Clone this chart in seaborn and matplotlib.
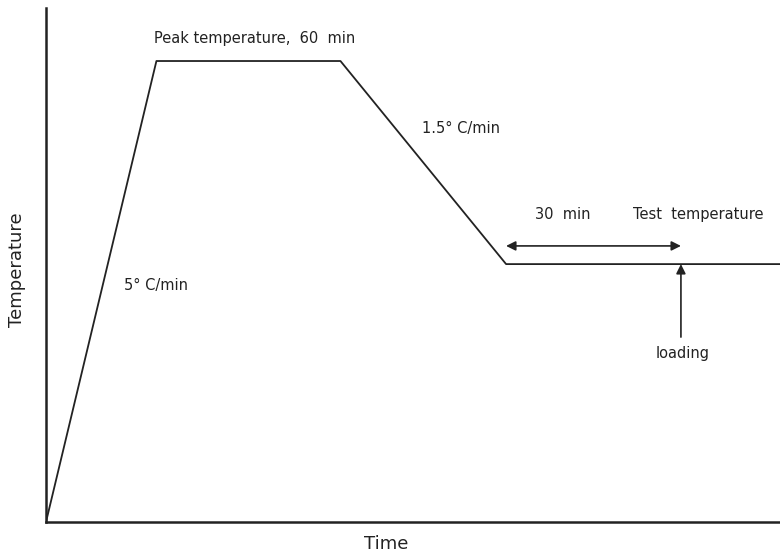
import matplotlib
matplotlib.use("Agg")
import matplotlib.pyplot as plt
import seaborn as sns
import pandas as pd

# Heat-treatment profile: heat at 5 °C/min, hold 60 min at peak,
# cool at 1.5 °C/min, then hold at test temperature before loading.
time_min = [0, 36, 96, 150, 239.3]
temp_c = [20, 200, 200, 120.7, 120.7]

hold_start = 150      # end of cooling ramp
loading_time = 207    # moment the load is applied

sns.set_theme(style="white")
plt.rcParams["font.family"] = ["DejaVu Sans"]

fig = plt.figure(figsize=(7.8, 5.56), dpi=100)
ax = fig.add_axes([46 / 780, 34 / 556, 734 / 780, 514 / 556])

profile = pd.DataFrame({"Time": time_min, "Temperature": temp_c})
sns.lineplot(data=profile, x="Time", y="Temperature", ax=ax,
             color="#222222", lw=1.3, sort=False)

ax.set_xlim(0, 239.3)
ax.set_ylim(20, 220.7)
ax.set_xticks([])
ax.set_yticks([])
for side in ("top", "right"):
    ax.spines[side].set_visible(False)
for side in ("left", "bottom"):
    ax.spines[side].set_color("#222222")
    ax.spines[side].set_linewidth(1.8)

ax.set_xlabel("Time", fontsize=13, color="#222222")
ax.xaxis.set_label_coords(0.463, -0.026)
ax.set_ylabel("Temperature", fontsize=13, color="#222222")
ax.yaxis.set_label_coords(-0.027, 0.49)

txt = dict(fontsize=10.5, color="#222222", ha="center", va="center")
ax.text(68, 208.6, "Peak temperature,  60  min", **txt)
ax.text(36, 112.5, "5° C/min", **txt)
ax.text(135.3, 173.8, "1.5° C/min", **txt)
ax.text(168.6, 139.9, "30  min", **txt)
ax.text(191.4, 139.9, "Test  temperature", fontsize=10.5, color="#222222",
        ha="left", va="center", clip_on=False)
ax.text(207.4, 85.6, "loading", **txt)

# 30-minute hold span
ax.annotate("", xy=(loading_time, 127.8), xytext=(hold_start, 127.8),
            arrowprops=dict(arrowstyle="<|-|>", color="#222222", lw=1.2,
                            mutation_scale=14, shrinkA=0, shrinkB=0))
# loading arrow
ax.annotate("", xy=(loading_time, 120.7), xytext=(loading_time, 92.2),
            arrowprops=dict(arrowstyle="-|>", color="#222222", lw=1.2,
                            mutation_scale=14, shrinkA=0, shrinkB=0))

fig.savefig("out.png", dpi=100)
